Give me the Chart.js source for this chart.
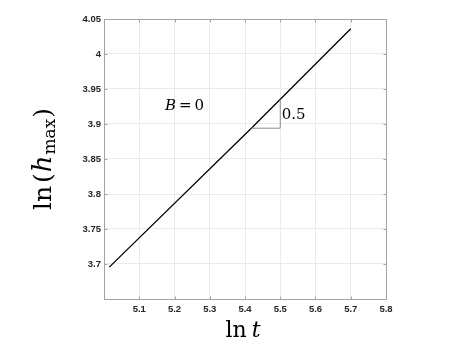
<!DOCTYPE html>
<html>
<head>
<meta charset="utf-8">
<script src="https://cdn.jsdelivr.net/npm/chart.js@4"></script>
<style>
  html, body { margin: 0; padding: 0; background: #fff; }
  canvas { display: block; }
</style>
</head>
<body>
<canvas id="chart" width="457" height="345"></canvas>
<script>
// values
const lnT = [5.015, 5.418, 5.70];
const lnH = [3.6955, 3.894, 4.036];

// slope triangle
const triT = [5.418, 5.5, 5.5];
const triH = [3.894, 3.894, 3.935];

const xTickValues = [5.1, 5.2, 5.3, 5.4, 5.5, 5.6, 5.7, 5.8];
const xTickLabels = ["5.1", "5.2", "5.3", "5.4", "5.5", "5.6", "5.7", "5.8"];
const yTickValues = [3.7, 3.75, 3.8, 3.85, 3.9, 3.95, 4, 4.05];
const yTickLabels = ["3.7", "3.75", "3.8", "3.85", "3.9", "3.95", "4", "4.05"];

const tickFont = { family: "Liberation Sans", size: 9.5, weight: "bold" };
const serif = "DejaVu Serif";

const toPoints = (xs, ys) => xs.map((v, i) => ({ x: v, y: ys[i] }));

// frame, inward ticks, axis titles and annotations
const decor = {
  id: "decor",
  afterDraw(chart) {
    const { ctx, chartArea: a, scales } = chart;
    const x = scales.x, y = scales.y;
    ctx.save();
    ctx.strokeStyle = "#a3a3a3";
    ctx.lineWidth = 1;
    const L = Math.round(a.left) + 0.5, R = Math.round(a.right) + 0.5;
    const T = Math.round(a.top) + 0.5, B = Math.round(a.bottom) + 0.5;
    ctx.strokeRect(L, T, R - L, B - T);
    ctx.beginPath();
    xTickValues.forEach((v) => {
      const px = Math.round(x.getPixelForValue(v)) + 0.5;
      ctx.moveTo(px, B); ctx.lineTo(px, B - 3);
      ctx.moveTo(px, T); ctx.lineTo(px, T + 3);
    });
    yTickValues.forEach((v) => {
      const py = Math.round(y.getPixelForValue(v)) + 0.5;
      ctx.moveTo(L, py); ctx.lineTo(L + 3, py);
      ctx.moveTo(R, py); ctx.lineTo(R - 3, py);
    });
    ctx.stroke();

    ctx.fillStyle = "#000";
    ctx.textBaseline = "alphabetic";

    // x title: ln t
    ctx.font = `22px "${serif}"`;
    const ln = "ln";
    const lnW = ctx.measureText(ln).width;
    ctx.font = `italic 22px "${serif}"`;
    const tW = ctx.measureText("t").width;
    const gap = 5;
    const xCenter = (a.left + a.right) / 2;
    let sx = xCenter - (lnW + gap + tW) / 2 - 2;
    ctx.font = `22px "${serif}"`;
    ctx.fillText(ln, sx, 337);
    ctx.font = `italic 22px "${serif}"`;
    ctx.fillText("t", sx + lnW + gap, 337);

    // y title: ln(h_max), rotated
    const parts = [
      { t: "ln", f: `25px "${serif}"`, dy: 0, g: 3 },
      { t: "(", f: `25px "${serif}"`, dy: 0, g: 1 },
      { t: "h", f: `italic 26px "${serif}"`, dy: 0, g: 1 },
      { t: "max", f: `17px "${serif}"`, dy: 4, g: 1 },
      { t: ")", f: `25px "${serif}"`, dy: 0, g: 0 },
    ];
    let total = 0;
    parts.forEach((p) => { ctx.font = p.f; p.w = ctx.measureText(p.t).width; total += p.w + p.g; });
    ctx.save();
    ctx.translate(51, (a.top + a.bottom) / 2);
    ctx.rotate(-Math.PI / 2);
    let cx = -total / 2;
    parts.forEach((p) => {
      ctx.font = p.f;
      ctx.fillText(p.t, cx, p.dy);
      cx += p.w + p.g;
    });
    ctx.restore();

    // annotations
    ctx.textBaseline = "middle";
    const bx = x.getPixelForValue(5.173), by = y.getPixelForValue(3.925);
    ctx.font = `italic 15px "${serif}"`;
    ctx.fillText("B", bx, by);
    const bW = ctx.measureText("B").width;
    ctx.font = `15px "${serif}"`;
    ctx.fillText("=", bx + bW + 3, by);
    const eW = ctx.measureText("=").width;
    ctx.fillText("0", bx + bW + 3 + eW + 3, by);
    ctx.fillText("0.5", x.getPixelForValue(5.504), y.getPixelForValue(3.913));
    ctx.restore();
  },
};

new Chart(document.getElementById("chart"), {
  type: "scatter",
  data: {
    datasets: [
      {
        data: toPoints(triT, triH),
        showLine: true,
        borderColor: "#8c8c8c",
        borderWidth: 1,
        pointRadius: 0,
      },
      {
        data: toPoints(lnT, lnH),
        showLine: true,
        borderColor: "#000000",
        borderWidth: 1.3,
        pointRadius: 0,
      },
    ],
  },
  options: {
    responsive: false,
    animation: false,
    layout: { padding: { left: 0, right: 71, top: 19, bottom: 0 } },
    plugins: { legend: { display: false }, tooltip: { enabled: false } },
    scales: {
      x: {
        type: "linear",
        min: 5.0,
        max: 5.8,
        afterBuildTicks: (s) => { s.ticks = xTickValues.map((v) => ({ value: v })); },
        afterFit: (s) => { s.height = 46; },
        ticks: {
          callback: (v, i) => xTickLabels[i],
          font: tickFont,
          color: "#262626",
          padding: 5,
          maxRotation: 0,
        },
        grid: { color: "#ebebeb", drawTicks: false },
        border: { display: false },
      },
      y: {
        type: "linear",
        min: 3.65,
        max: 4.05,
        afterBuildTicks: (s) => { s.ticks = yTickValues.map((v) => ({ value: v })); },
        afterFit: (s) => { s.width = 104; },
        ticks: {
          callback: (v, i) => yTickLabels[i],
          font: tickFont,
          color: "#262626",
          padding: 3,
        },
        grid: { color: "#ebebeb", drawTicks: false },
        border: { display: false },
      },
    },
  },
  plugins: [decor],
});
</script>
</body>
</html>
